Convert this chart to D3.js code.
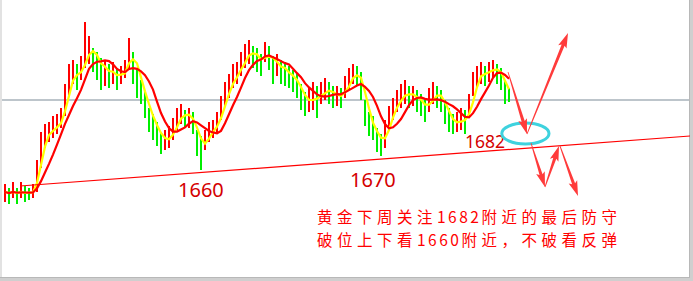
<!DOCTYPE html>
<html><head><meta charset="utf-8">
<script src="https://cdn.jsdelivr.net/npm/d3@7"></script>
<style>html,body{margin:0;padding:0;background:#fff;}svg{display:block;}</style>
</head><body>
<svg id="c" width="693" height="281"></svg>
<script>
// ---- data (price units) ----
const closes = [1646,1645,1647,1644.5,1646.5,1645.5,1645,1647,1659.5,1672,1674.5,1677,1678,1680,1683,1696,1703,1706,1704.5,1707,
1717,1719.5,1713,1711,1707,1708,1704.5,1706,1703,1705,1708,1718,1711,1702,1697,1690,1683,1679.5,1676,1671,
1672,1674,1678,1683,1687,1683,1684,1681,1669.5,1668,1673,1677,1678,1681,1689.5,1696,1699.5,1704.5,1706,1711,
1714.5,1717,1714.5,1713,1709.5,1717,1714.5,1708,1711,1707,1706,1704.5,1702,1699.5,1694,1690,1692,1694,1692,1696,
1698,1696,1694,1694.5,1693.5,1699.5,1703,1706,1704,1699.5,1684.5,1679.5,1678,1672,1669.5,1677,1684.5,1688,1692,1694.5,
1696,1694,1694.5,1692,1690,1687,1692,1696,1694.5,1692,1686,1682,1679.5,1681,1683,1682,1689.5,1701,1704.5,1706,
1704.5,1707,1709,1706,1703,1696,1693];
const highs = [1650,1648,1651,1648,1651,1649,1648,1650,1662,1676,1680,1681,1684,1685,1688,1700,1710,1712,1710,1714,
1731,1724,1718,1716,1713,1712,1710,1711,1708,1709,1712,1723,1716,1708,1702,1696,1688,1685,1681,1676,
1677,1679,1683,1688,1690,1687,1688,1686,1677,1674,1677,1681,1682,1686,1694,1701,1705,1710,1711,1716,
1720,1722,1719,1718,1715,1721,1719,1714,1715,1712,1711,1709,1707,1705,1700,1696,1698,1701,1699,1701,
1703,1701,1699,1699,1698,1704,1708,1710,1709,1706,1692,1686,1684,1678,1675,1682,1689,1693,1697,1700,
1702,1699,1699,1697,1695,1692,1698,1701,1699,1697,1692,1688,1685,1686,1688,1687,1695,1706,1709,1711,
1709,1711,1712,1710,1708,1702,1698];
const lows = [1641,1640,1643,1640,1643,1641,1642,1643,1646,1658,1668,1671,1673,1675,1678,1684,1694,1700,1697,1702,
1708,1710,1706,1702,1697,1699,1698,1700,1697,1700,1703,1707,1700,1693,1690,1683,1676,1672,1669,1665,
1667,1668,1672,1677,1680,1678,1678,1675,1664,1657,1667,1671,1673,1676,1682,1689,1693,1698,1700,1704,
1708,1710,1708,1706,1704,1711,1707,1700,1704,1700,1699,1698,1696,1693,1687,1684,1686,1687,1683,1690,
1692,1690,1688,1689,1688,1693,1697,1700,1699,1692,1679,1674,1672,1666,1664,1668,1677,1682,1686,1688,
1690,1688,1689,1686,1684,1681,1686,1690,1688,1686,1680,1676,1675,1676,1677,1675,1683,1694,1698,1700,
1699,1701,1703,1700,1697,1690,1691];
const refPrice = 1692;                       // grey horizontal line
const trendLine = [{i: 3.75, p: 1649}, {i: 171.25, p: 1674}];
const levelLabels = [
  {text: "1660", i: 43.25, p: 1643.5, size: 20},
  {text: "1670", i: 86.25, p: 1648.5, size: 20},
  {text: "1682", i: 115, p: 1668, size: 17.5}
];
const noteLines = ["黄金下周关注1682附近的最后防守", "破位上下看1660附近，不破看反弹"];
const arrows = [
  [{i:125.75,p:1706},{i:130.5,p:1675}],
  [{i:130.5,p:1675},{i:140.75,p:1725.5}],
  [{i:131.5,p:1670.5},{i:135,p:1648.5}],
  [{i:135,p:1648.5},{i:138.5,p:1669}],
  [{i:138.75,p:1669},{i:143.25,p:1644}]
];
const focus = {i: 130.1, p: 1675.25, ri: 5.9, rp: 5.25};

// ---- scales ----
const svg = d3.select("#c");
const x = d3.scaleLinear().domain([0, closes.length - 1]).range([5, 509]);
const y = d3.scaleLinear().domain([1640, 1742]).range([204, 0]);

// frame
svg.append("rect").attr("x",0).attr("y",0).attr("width",693).attr("height",281).attr("fill","#fff");
svg.append("rect").attr("x",0).attr("y",0).attr("width",2).attr("height",281).attr("fill","#e2e2e2");
svg.append("rect").attr("x",689).attr("y",0).attr("width",4).attr("height",281).attr("fill","#cfcfcf");
svg.append("rect").attr("x",0).attr("y",277).attr("width",693).attr("height",4).attr("fill","#cfcfcf");
svg.append("rect").attr("x",689).attr("y",0).attr("width",1).attr("height",278).attr("fill","#b8b8b8");
svg.append("rect").attr("x",0).attr("y",277).attr("width",690).attr("height",1).attr("fill","#b8b8b8");

// reference line
svg.append("line").attr("x1",2).attr("x2",689).attr("y1",y(refPrice)).attr("y2",y(refPrice))
  .attr("stroke","#7d8b98").attr("stroke-width",1.2);

// bars
svg.append("g").selectAll("line").data(closes).join("line")
  .attr("x1",(d,i)=>x(i)).attr("x2",(d,i)=>x(i))
  .attr("y1",(d,i)=>y(highs[i])).attr("y2",(d,i)=>y(lows[i]))
  .attr("stroke",(d,i)=> i>0 && d < closes[i-1] ? "#00ee00" : "#ff0000")
  .attr("stroke-width",2);

// moving averages
function ma(n){ return closes.map((d,i)=>{ const s=Math.max(0,i-n+1); return d3.mean(closes.slice(s,i+1)); }); }
const line = d3.line().x((d,i)=>x(i)).y(d=>y(d));
svg.append("path").attr("d",line(ma(3))).attr("fill","none").attr("stroke","#ffff00").attr("stroke-width",2.2);
svg.append("path").attr("d",line(ma(7))).attr("fill","none").attr("stroke","#ff0000").attr("stroke-width",2.2);

// trend line
svg.append("line").attr("x1",x(trendLine[0].i)).attr("y1",y(trendLine[0].p))
  .attr("x2",x(trendLine[1].i)).attr("y2",y(trendLine[1].p))
  .attr("stroke","#ff0000").attr("stroke-width",1.2);

// level labels
svg.append("g").selectAll("text").data(levelLabels).join("text")
  .attr("x",d=>x(d.i)).attr("y",d=>y(d.p)).text(d=>d.text)
  .attr("font-family","'Noto Sans', 'Liberation Sans', sans-serif")
  .attr("font-size",d=>d.size).attr("fill","#d40000");

// focus ellipse
svg.append("ellipse").attr("cx",x(focus.i)).attr("cy",y(focus.p))
  .attr("rx",x(focus.i+focus.ri)-x(focus.i)).attr("ry",y(focus.p)-y(focus.p+focus.rp))
  .attr("fill","none").attr("stroke","#3ed2de").attr("stroke-width",3);

// arrows
function arrowPath(a){
  const x1=x(a[0].i), y1=y(a[0].p), x2=x(a[1].i), y2=y(a[1].p);
  const dx=x2-x1, dy=y2-y1, L=Math.hypot(dx,dy), ux=dx/L, uy=dy/L, nx=-uy, ny=ux;
  const hl=13, hw=4.5, w0=0.4, w1=1.6;
  const bx=x2-ux*hl, by=y2-uy*hl;
  const pts=[[x1+nx*w0,y1+ny*w0],[bx+nx*w1,by+ny*w1],[bx+nx*hw-ux*2,by+ny*hw-uy*2],[x2,y2],
             [bx-nx*hw-ux*2,by-ny*hw-uy*2],[bx-nx*w1,by-ny*w1],[x1-nx*w0,y1-ny*w0]];
  return "M"+pts.map(p=>p.join(",")).join("L")+"Z";
}
svg.append("g").selectAll("path").data(arrows).join("path")
  .attr("d",arrowPath).attr("fill","#ff3b3b");

// note text: wide spacing for CJK characters, tight for digits
const notes = svg.append("g")
  .attr("font-family","'Noto Sans CJK SC', sans-serif")
  .attr("font-size",15.5).attr("fill","#ff0000");
noteLines.forEach((s,li)=>{
  const t = notes.append("text").attr("x",317).attr("y",223+li*23);
  const parts = s.match(/[0-9]+|[^0-9]+/g);
  parts.forEach(p=>{
    t.append("tspan").text(p).attr("letter-spacing", /[0-9]/.test(p) ? 2.5 : 4.5);
  });
});
</script>
</body></html>
